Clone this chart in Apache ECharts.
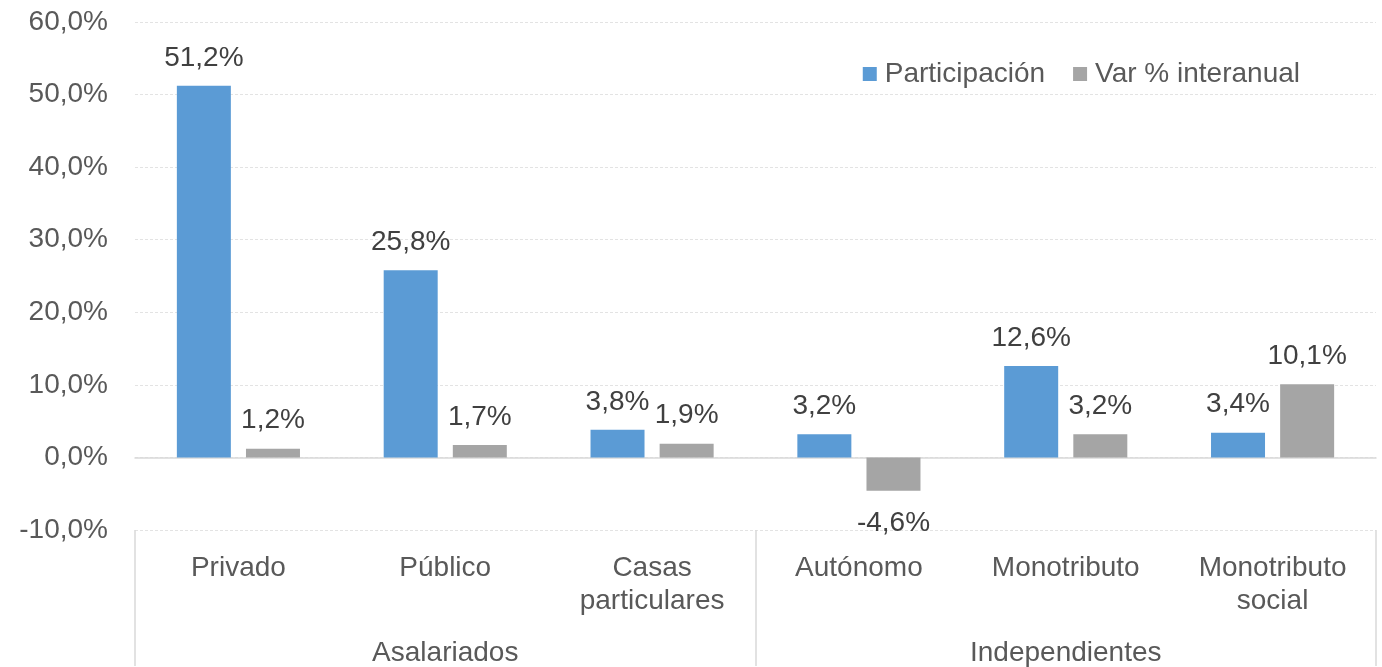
<!DOCTYPE html>
<html>
<head>
<meta charset="utf-8">
<script src="https://cdn.jsdelivr.net/npm/echarts@6/dist/echarts.min.js"></script>
<style>
  html, body { margin: 0; padding: 0; background: #fff; }
  #chart { width: 1382px; height: 667px; }
</style>
</head>
<body>
<div id="chart"></div>
<script>
// data
var categories = ['Privado', 'Público', 'Casas\nparticulares', 'Autónomo', 'Monotributo', 'Monotributo\nsocial'];
var groups = ['Asalariados', 'Independientes'];
var participacion = [51.2, 25.8, 3.8, 3.2, 12.6, 3.4];
var varInteranual = [1.2, 1.7, 1.9, -4.6, 3.2, 10.1];

var FONT = 'Liberation Sans, Arial, sans-serif';

function pct(v) {
    return v.toFixed(1).replace('.', ',') + '%';
}

// negative bars get their label underneath
function withLabelPos(values) {
    return values.map(function (v) {
        return { value: v, label: { position: v < 0 ? 'bottom' : 'top', distance: v < 0 ? 18 : 14 } };
    });
}

var myChart = echarts.init(document.getElementById('chart'));

var option = {
    animation: false,
    textStyle: { fontFamily: FONT },
    grid: { left: 135, right: 6, top: 22, bottom: 136 },

    legend: {
        data: ['Participación', 'Var % interanual'],
        right: 77,
        top: 55,
        itemWidth: 14,
        itemHeight: 14,
        itemGap: 28,
        icon: 'rect',
        textStyle: { fontFamily: FONT, fontSize: 28, color: '#595959', padding: [0, 0, 0, 3] }
    },

    xAxis: [
        {
            // zero line
            type: 'category',
            data: categories,
            axisLine: { onZero: true, lineStyle: { color: '#d9d9d9', width: 1.5 } },
            axisTick: { show: false },
            axisLabel: { show: false }
        },
        {
            // category labels at the bottom
            type: 'category',
            data: categories,
            position: 'bottom',
            axisLine: { show: false, onZero: false },
            axisTick: { show: false },
            axisLabel: {
                margin: 22,
                fontFamily: FONT,
                fontSize: 28,
                lineHeight: 33,
                color: '#595959',
                verticalAlign: 'top',
                interval: 0
            }
        },
        {
            // group labels + separators
            type: 'category',
            data: groups,
            position: 'bottom',
            axisLine: { show: false, onZero: false },
            axisTick: { show: true, length: 136, lineStyle: { color: '#d9d9d9', width: 1.5 } },
            axisLabel: {
                margin: 109,
                fontFamily: FONT,
                fontSize: 28,
                color: '#595959',
                verticalAlign: 'top'
            }
        }
    ],

    yAxis: {
        type: 'value',
        min: -10,
        max: 60,
        interval: 10,
        axisLine: { show: false },
        axisTick: { show: false },
        splitLine: { lineStyle: { color: '#e3e3e3', type: [3, 2], width: 1 } },
        axisLabel: {
            margin: 27,
            fontFamily: FONT,
            fontSize: 28,
            color: '#595959',
            formatter: function (v) { return pct(v); }
        }
    },

    series: [
        {
            name: 'Participación',
            type: 'bar',
            xAxisIndex: 0,
            barWidth: 54,
            barGap: '28%',
            itemStyle: { color: '#5b9bd5' },
            label: {
                show: true,
                fontFamily: FONT,
                fontSize: 28,
                color: '#404040',
                formatter: function (p) { return pct(p.value); }
            },
            data: withLabelPos(participacion)
        },
        {
            name: 'Var % interanual',
            type: 'bar',
            xAxisIndex: 0,
            barWidth: 54,
            barGap: '28%',
            itemStyle: { color: '#a5a5a5' },
            label: {
                show: true,
                fontFamily: FONT,
                fontSize: 28,
                color: '#404040',
                formatter: function (p) { return pct(p.value); }
            },
            data: withLabelPos(varInteranual)
        }
    ]
};

myChart.setOption(option);
</script>
</body>
</html>
